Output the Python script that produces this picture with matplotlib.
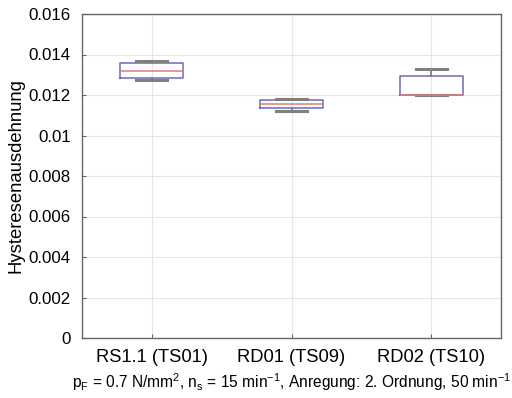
import matplotlib
matplotlib.use("Agg")
import matplotlib.pyplot as plt

categories = ["RS1.1 (TS01)", "RD01 (TS09)", "RD02 (TS10)"]
whislo = [0.01275, 0.01120, 0.01200]
q1 = [0.01282, 0.01136, 0.01200]
med = [0.01320, 0.01156, 0.01200]
q3 = [0.01358, 0.01175, 0.01295]
whishi = [0.01368, 0.01180, 0.01328]
yticks = [0, 0.002, 0.004, 0.006, 0.008, 0.01, 0.012, 0.014, 0.016]
ytick_labels = ["0", "0.002", "0.004", "0.006", "0.008", "0.01", "0.012", "0.014", "0.016"]

plt.rcParams['font.family'] = ['Liberation Sans', 'DejaVu Sans']
plt.rcParams['mathtext.fontset'] = 'custom'
plt.rcParams['mathtext.rm'] = 'Liberation Sans'
plt.rcParams['mathtext.it'] = 'Liberation Sans'

fig = plt.figure(figsize=(5.12, 3.98), dpi=100)
ax = fig.add_axes([82/512, 1-338/398, (501-82)/512, (338-14)/398])

stats = []
for i in range(len(categories)):
    stats.append(dict(whislo=whislo[i], q1=q1[i], med=med[i], q3=q3[i],
                      whishi=whishi[i], fliers=[], label=categories[i]))

ax.bxp(stats, positions=[1, 2, 3], widths=0.45, showfliers=False,
       boxprops=dict(color='#6a6ab8', linewidth=1.1),
       medianprops=dict(color='#e07a7a', linewidth=1.1),
       whiskerprops=dict(color='#707070', linewidth=1.1),
       capprops=dict(color='#808080', linewidth=2.2),
       capwidths=0.22)

ax.set_xlim(0.5, 3.5)
ax.set_ylim(0, 0.016)
ax.set_yticks(yticks)
ax.set_yticklabels(ytick_labels, fontsize=12.2)
ax.set_xticks([1, 2, 3])
ax.set_xticklabels(categories, fontsize=13.2)
ax.grid(True, color='#e6e6e6', linewidth=0.8)
ax.set_axisbelow(True)
ax.tick_params(direction='in', length=3, color='#666666')
ax.tick_params(axis='x', pad=8)
ax.tick_params(axis='y', pad=8)
for s in ax.spines.values():
    s.set_color('#666666')
    s.set_linewidth(1.0)

ax.set_ylabel("Hysteresenausdehnung", fontsize=13.3, labelpad=3)
ax.set_xlabel(r"$\mathregular{p_F}$ = 0.7 N/mm$\mathregular{^2}$, $\mathregular{n_s}$ = 15 min$\mathregular{^{-1}}$, Anregung: 2. Ordnung, 50 min$\mathregular{^{-1}}$",
              fontsize=11.2, labelpad=4)

fig.savefig("out.png", dpi=100)
